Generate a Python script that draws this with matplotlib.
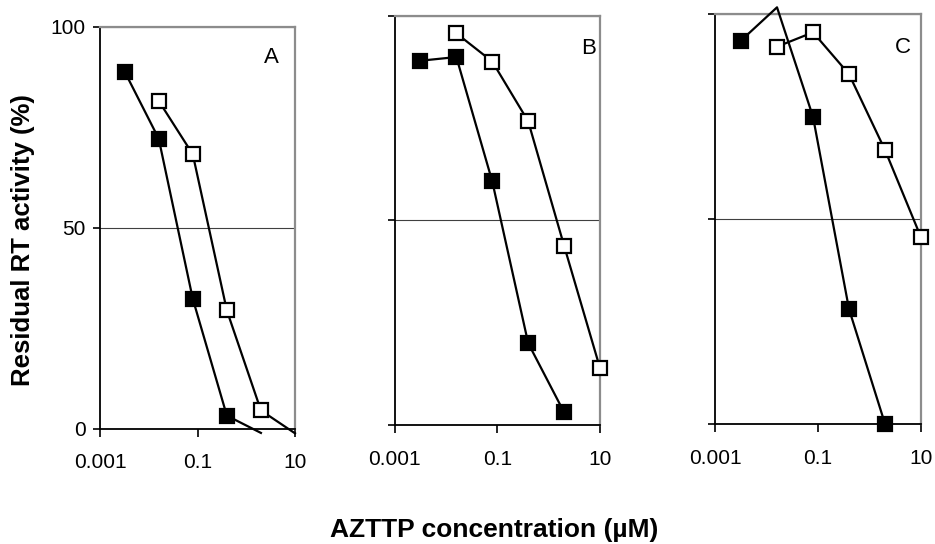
import matplotlib
matplotlib.use("Agg")
import matplotlib.pyplot as plt
import numpy as np

plt.rcParams['font.family'] = ['Liberation Sans', 'DejaVu Sans']

# Concentrations (µM)
conc_filled = [0.0032, 0.016, 0.08, 0.4, 2]
conc_open = [0.016, 0.08, 0.4, 2, 10]

# Residual RT activity (%)
A_filled = [88.9, 72.2, 32.3, 3.2, -1.1]
A_open = [81.6, 68.3, 29.4, 4.5, -1.2]
B_filled = [89.0, 89.9, 59.5, 20.0, 3.1]
B_open = [95.7, 88.8, 74.2, 43.8, 13.9]
C_filled = [93.6, 101.7, 75.0, 28.1, 0.1]
C_open = [92.1, 95.6, 85.4, 66.9, 45.6]

panel_names = ["A", "B", "C"]
xticks = [0.001, 0.1, 10]
xticklabels = ["0.001", "0.1", "10"]
yticks = [0, 50, 100]
yticklabels = ["0", "50", "100"]

W, H = 935, 544
fig = plt.figure(figsize=(W / 100, H / 100), dpi=100)

# axes boxes in pixels: left, right, top, bottom
boxes = [(100, 295, 27, 428.5), (394.5, 600, 15.7, 425), (715, 921, 14.3, 424.3)]
letter_pos = [(0.877, 0.925), (0.946, 0.919), (0.913, 0.92)]
series = [(A_filled, A_open), (B_filled, B_open), (C_filled, C_open)]

for i, ((l, r, t, b), (yf, yo)) in enumerate(zip(boxes, series)):
    ax = fig.add_axes([l / W, (H - b) / H, (r - l) / W, (b - t) / H])
    ax.set_xscale('log')
    ax.set_xlim(0.001, 10)
    ax.set_ylim(0, 100)
    ax.set_xticks(xticks)
    ax.set_xticklabels(xticklabels)
    ax.xaxis.set_minor_locator(matplotlib.ticker.NullLocator())
    ax.set_yticks(yticks)
    if i == 0:
        ax.set_yticklabels(yticklabels)
    else:
        ax.set_yticklabels([])
    ax.tick_params(axis='x', direction='out', length=6, width=1.2, labelsize=15, pad=12, colors='black')
    ax.tick_params(axis='y', direction='out', length=5, width=1.2, labelsize=15, pad=5.5, colors='black')
    ax.grid(axis='y', color='#404040', lw=0.8)
    ax.set_axisbelow(True)
    for s in ['left', 'bottom']:
        ax.spines[s].set_color('black')
        ax.spines[s].set_linewidth(1.3)
    for s in ['top', 'right']:
        ax.spines[s].set_color('#8c8c8c')
        ax.spines[s].set_linewidth(1.6)

    for xs, ys, face in [(conc_filled, yf, 'black'), (conc_open, yo, 'white')]:
        ys = np.asarray(ys, dtype=float)
        ax.plot(xs, ys, color='black', lw=1.6, clip_on=False, zorder=3)
        inside = (ys >= 0) & (ys <= 100)
        ax.plot(np.asarray(xs)[inside], ys[inside], ls='none', marker='s', ms=10,
                mfc=face, mec='black', mew=1.6, clip_on=False, zorder=4)

    ax.text(letter_pos[i][0], letter_pos[i][1], panel_names[i], transform=ax.transAxes,
            ha='center', va='center', fontsize=16)

fig.text(494 / W, 1 - 537 / H, "AZTTP concentration (µM)", ha='center', va='baseline',
         fontsize=19, fontweight='bold')
fig.text(23 / W, 1 - 240 / H, "Residual RT activity (%)", ha='center', va='center',
         rotation=90, fontsize=18.5, fontweight='bold')

fig.savefig("out.png", dpi=100)
